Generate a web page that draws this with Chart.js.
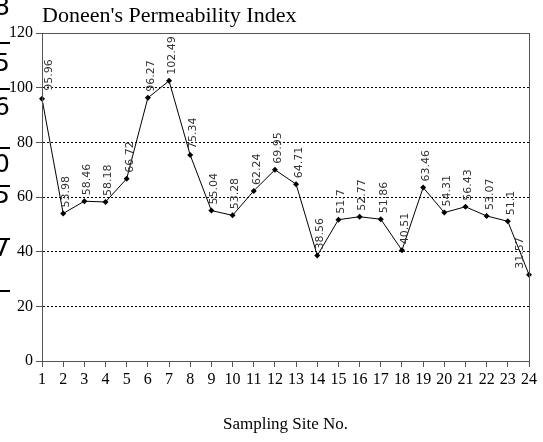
<!DOCTYPE html>
<html>
<head>
<meta charset="utf-8">
<script src="https://cdn.jsdelivr.net/npm/chart.js@4"></script>
<style>
  body { margin: 0; background: #fff; }
  canvas { display: block; }
</style>
</head>
<body>
<canvas id="lineChart" width="543" height="442"></canvas>
<script>
const sites = ["1","2","3","4","5","6","7","8","9","10","11","12","13","14","15","16","17","18","19","20","21","22","23","24"];
const permIndex = [95.96, 53.98, 58.46, 58.18, 66.72, 96.27, 102.49, 75.34, 55.04, 53.28, 62.24, 69.95,
  64.71, 38.56, 51.7, 52.77, 51.86, 40.51, 63.46, 54.31, 56.43, 53.07, 51.1, 31.57];
const valueLabels = ["95.96","53.98","58.46","58.18","66.72","96.27","102.49","75.34","55.04","53.28","62.24","69.95",
  "64.71","38.56","51.7","52.77","51.86","40.51","63.46","54.31","56.43","53.07","51.1","31.57"];
const yTicks = [0, 20, 40, 60, 80, 100, 120];

const serif = '"Liberation Serif", "Times New Roman", serif';

// value labels, turned up the way they are in the figure
const pointLabels = {
  id: "pointLabels",
  afterDatasetsDraw(chart) {
    const ctx = chart.ctx;
    const meta = chart.getDatasetMeta(0);
    ctx.save();
    ctx.font = '11px "DejaVu Sans", sans-serif';
    ctx.fillStyle = "#333";
    meta.data.forEach(function(pt, i) {
      let x = pt.x + 3;
      let y = pt.y - 6;
      if (i === 0) { x = pt.x + 7; y = pt.y - 8; }
      if (i === meta.data.length - 1) { x = pt.x - 9; }
      ctx.save();
      ctx.translate(x, y);
      ctx.rotate(-Math.PI / 2);
      ctx.textAlign = "left";
      ctx.textBaseline = "middle";
      ctx.fillText(valueLabels[i], 0, 0);
      ctx.restore();
    });
    ctx.restore();
  }
};

// box round the plot, title, and the cut-off bits at the left edge
const frame = {
  id: "frame",
  afterDraw(chart) {
    const ctx = chart.ctx;
    const a = chart.chartArea;
    ctx.save();
    ctx.strokeStyle = "#555";
    ctx.lineWidth = 1;
    ctx.strokeRect(a.left + 0.5, a.top + 0.5, a.right - a.left, a.bottom - a.top);

    ctx.fillStyle = "#000";
    ctx.font = "22px " + serif;
    ctx.textAlign = "left";
    ctx.textBaseline = "middle";
    ctx.fillText("Doneen's Permeability Index", 42, 16);

    ctx.font = '25px "DejaVu Sans", sans-serif';
    ctx.textAlign = "right";
    [["38", 8], ["35", 64], ["56", 108], ["0", 165], ["5", 196], ["7", 249]].forEach(function(g) {
      ctx.fillText(g[0], 10, g[1]);
    });
    [42, 88, 147, 185, 238, 290].forEach(function(y) {
      ctx.fillRect(0, y, 10, 2);
    });
    ctx.restore();
  }
};

new Chart(document.getElementById("lineChart").getContext("2d"), {
  type: "line",
  data: {
    labels: sites,
    datasets: [{
      data: permIndex,
      borderColor: "#000",
      borderWidth: 1,
      backgroundColor: "#000",
      pointStyle: "rectRot",
      pointRadius: 3,
      pointBorderWidth: 0,
      tension: 0,
      clip: false
    }]
  },
  options: {
    responsive: false,
    animation: false,
    layout: { padding: { left: 0, right: 14, top: 33, bottom: 0 } },
    plugins: {
      legend: { display: false },
      tooltip: { enabled: false }
    },
    scales: {
      x: {
        offset: false,
        grid: { display: true, drawOnChartArea: false, drawTicks: true, tickLength: 6, color: "#555" },
        border: { display: true, color: "#555" },
        ticks: { color: "#000", font: { family: serif, size: 16 }, padding: 3, maxRotation: 0, autoSkip: false },
        title: { display: true, text: "Sampling Site No.", color: "#000", font: { family: serif, size: 17 }, padding: { top: 0, bottom: 7 } },
        afterFit: function(scale) { scale.height = 81; }
      },
      y: {
        min: yTicks[0],
        max: yTicks[yTicks.length - 1],
        grid: { color: "#000", borderDash: [2, 2], tickBorderDash: [], tickColor: "#555", tickLength: 6 },
        border: { display: true, color: "#555", dash: [2, 2] },
        ticks: { stepSize: 20, color: "#000", font: { family: serif, size: 16 }, padding: 3 },
        afterFit: function(scale) { scale.width = 42; }
      }
    }
  },
  plugins: [pointLabels, frame]
});
</script>
</body>
</html>
